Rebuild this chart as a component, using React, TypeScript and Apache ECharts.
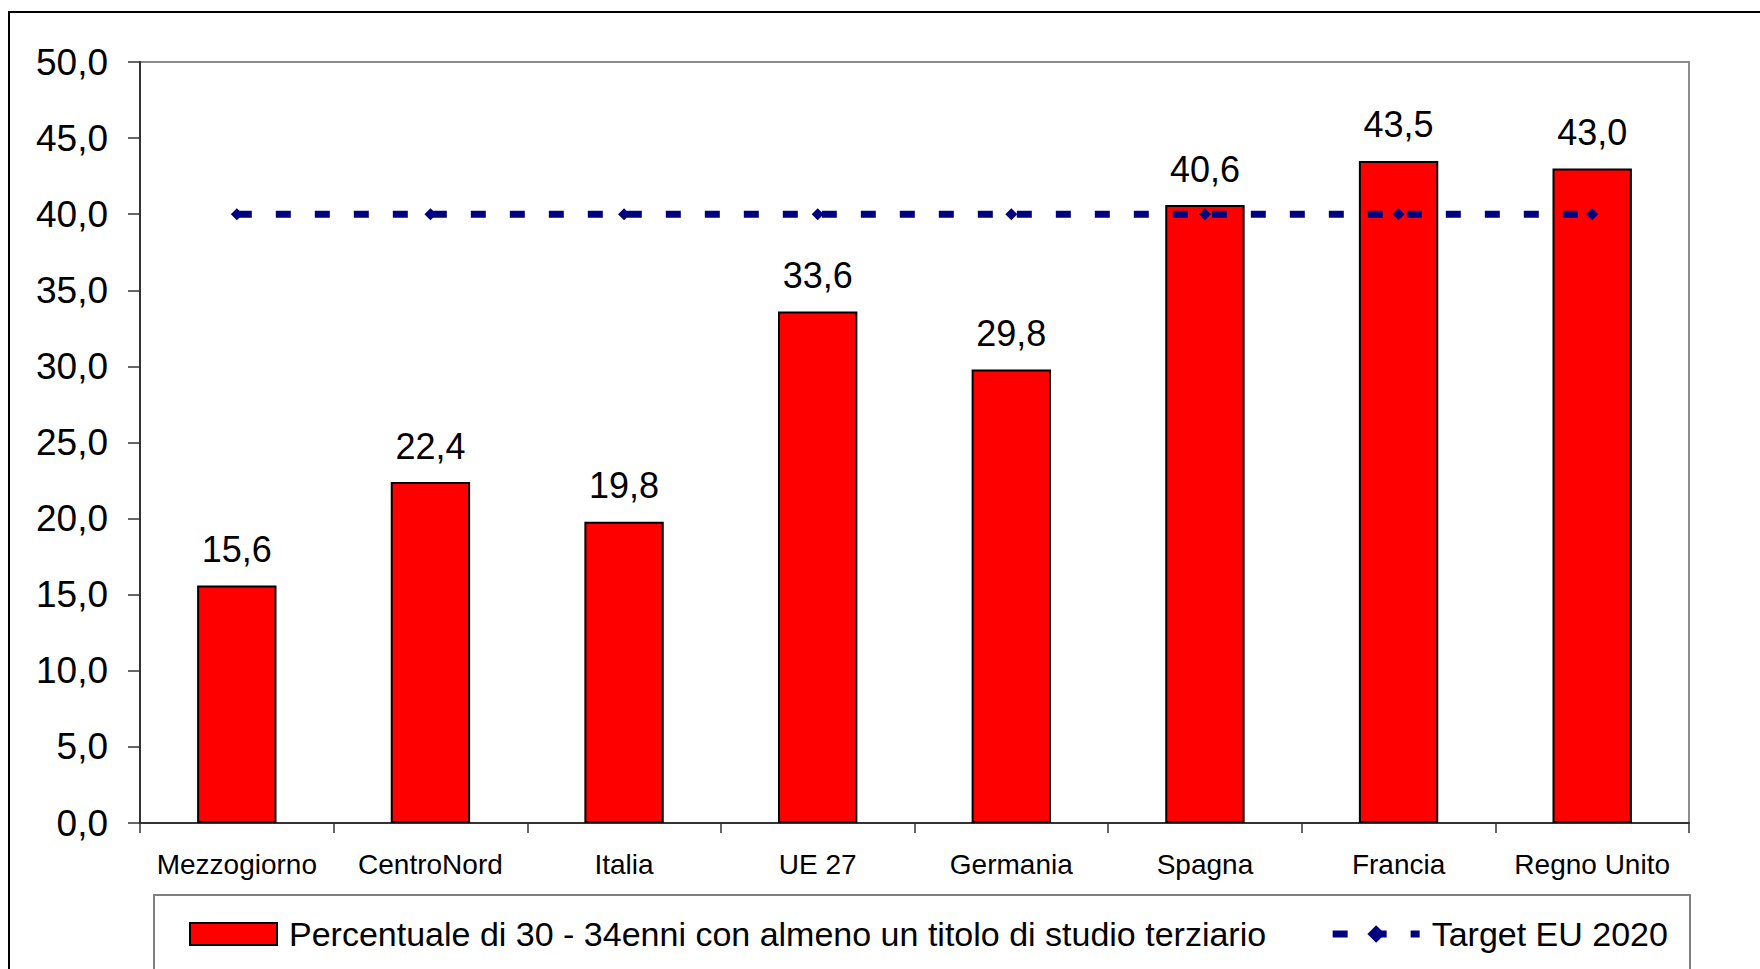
import React, { useEffect, useRef } from "react";
import * as echarts from "echarts";

const categories = [
  "Mezzogiorno",
  "CentroNord",
  "Italia",
  "UE 27",
  "Germania",
  "Spagna",
  "Francia",
  "Regno Unito",
];
const barValues = [15.6, 22.4, 19.8, 33.6, 29.8, 40.6, 43.5, 43.0];
const targetValues = [40, 40, 40, 40, 40, 40, 40, 40];
const barName = "Percentuale di 30 - 34enni con almeno un titolo di studio terziario";
const lineName = "Target EU 2020";

const fmt = (v: number) => v.toFixed(1).replace(".", ",");
const FONT = "'Liberation Sans', Arial, sans-serif";

export default function App() {
  const ref = useRef<HTMLDivElement>(null);
  useEffect(() => {
    if (!ref.current) return;
    const chart = echarts.init(ref.current, undefined, { renderer: "svg" });
    chart.setOption({
      animation: false,
      backgroundColor: "#ffffff",
      textStyle: { fontFamily: FONT },
      grid: {
        left: 140,
        right: 71,
        top: 62,
        bottom: 146,
        show: true,
        borderColor: "#8c8c8c",
        borderWidth: 2,
        backgroundColor: "transparent",
      },
      graphic: [
        {
          type: "rect",
          shape: { x: 9, y: 12, width: 2000, height: 2000 },
          style: { fill: "none", stroke: "#000", lineWidth: 2 },
          silent: true,
          z: -10,
        },
        {
          type: "rect",
          shape: { x: 154, y: 895, width: 1536, height: 200 },
          style: { fill: "none", stroke: "#808080", lineWidth: 2 },
          silent: true,
          z: -5,
        },
      ],
      legend: {
        left: 189,
        top: 914,
        padding: 0,
        itemGap: 63,
        itemWidth: 87,
        itemHeight: 22,
        lineStyle: { width: 7 },
        textStyle: {
          fontFamily: FONT,
          fontSize: 34,
          color: "#000",
          lineHeight: 40,
          padding: [0, 0, 0, 7],
        },
        data: [
          {
            name: barName,
            icon: "rect",
            itemStyle: { color: "#ff0000", borderColor: "#000", borderWidth: 2 },
          },
          {
            name: lineName,
            lineStyle: { width: 7, color: "#000080", type: [15, 24] },
          },
        ],
      },
      xAxis: {
        type: "category",
        data: categories,
        boundaryGap: true,
        axisLine: { show: true, lineStyle: { color: "#333", width: 2 } },
        axisTick: { show: true, length: 10, lineStyle: { color: "#333", width: 1.5 } },
        axisLabel: {
          fontFamily: FONT,
          fontSize: 28,
          color: "#000",
          margin: 27,
          interval: 0,
        },
      },
      yAxis: {
        type: "value",
        min: 0,
        max: 50,
        interval: 5,
        splitLine: { show: false },
        axisLine: { show: true, lineStyle: { color: "#333", width: 2 } },
        axisTick: { show: true, length: 12, lineStyle: { color: "#333", width: 1.5 } },
        axisLabel: {
          fontFamily: FONT,
          fontSize: 37,
          color: "#000",
          margin: 32,
          formatter: (v: number) => fmt(v),
        },
      },
      series: [
        {
          name: barName,
          type: "bar",
          data: barValues,
          barWidth: "41%",
          itemStyle: { color: "#ff0000", borderColor: "#000", borderWidth: 2 },
          label: {
            show: true,
            position: "top",
            distance: 18,
            fontFamily: FONT,
            fontSize: 36,
            color: "#000",
            formatter: (p: any) => fmt(p.value),
          },
          z: 2,
        },
        {
          name: lineName,
          type: "line",
          data: targetValues,
          symbol: "diamond",
          symbolSize: 12,
          itemStyle: { color: "#000080" },
          lineStyle: { color: "#000080", width: 7, type: [15, 24] },
          z: 3,
        },
      ],
    });
    return () => chart.dispose();
  }, []);
  return (
    <div
      ref={ref}
      style={{ position: "fixed", left: 0, top: 0, width: 1760, height: 969 }}
    />
  );
}
